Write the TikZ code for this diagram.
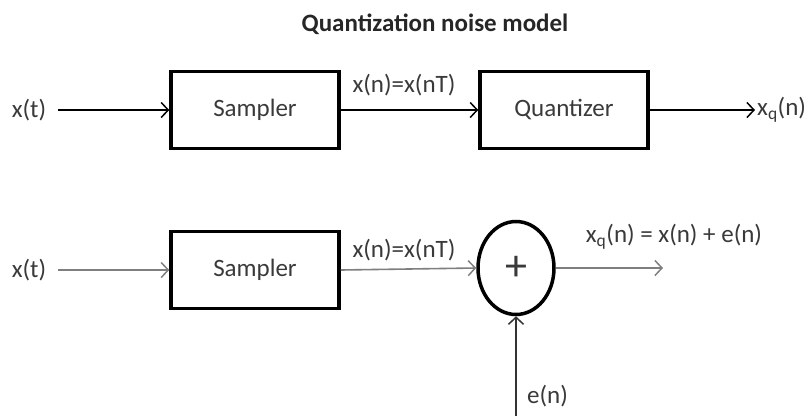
\documentclass[tikz,border=0pt]{standalone}
\usepackage{fontspec}
\setmainfont{Carlito}
\usetikzlibrary{arrows.meta,shapes.geometric}
\definecolor{txt}{HTML}{3A3A3A}
\definecolor{lgray}{HTML}{7F7F7F}
\begin{document}
\begin{tikzpicture}[x=1pt,y=-1pt,
  lbl/.style={text=txt, font=\fontsize{25}{30}\selectfont, inner sep=0pt},
  blk/.style={draw=black, line width=3.5pt, minimum width=168pt, minimum height=77pt,
              inner sep=0pt, text=txt, font=\fontsize{25}{30}\selectfont},
  sig/.style={line width=1.6pt, -{Straight Barb[length=7pt,width=15pt,line width=1.5pt]}},
]
\useasboundingbox (0,0) rectangle (811,416);
\fill[white] (0,0) rectangle (811,416);

% title
\node[lbl, font=\fontsize{25}{30}\selectfont\bfseries, text=black!85] (title) at (435,24) {Quantization noise model};

% top row
\node[lbl] (xt1) at (29,110) {x(t)};
\node[blk] (s1) at (255,110) {Sampler};
\node[blk] (q1) at (564,110) {Quantizer};
\node[lbl, anchor=west] (xq1) at (757,110) {x\textsubscript{q}(n)};
\node[lbl] (m1) at (404,85) {x(n)=x(nT)};
\draw[sig] (xt1.east) ++(12,0) -- (s1.west);
\draw[sig] (s1.east) -- (q1.west);
\draw[sig] (q1.east) -- ([xshift=-2pt]xq1.west);

% bottom row
\node[lbl] (xt2) at (29,270) {x(t)};
\node[blk] (s2) at (255,270) {Sampler};
\node[ellipse, draw=black, line width=3.5pt, minimum width=76pt, minimum height=93pt,
      inner sep=0pt, text=txt, font=\fontsize{44}{44}\selectfont] (sum) at (516,268) {+};
\node[lbl] (m2) at (404,250) {x(n)=x(nT)};
\node[lbl] (out) at (674,237) {x\textsubscript{q}(n) = x(n) + e(n)};
\node[lbl, anchor=west] (en) at (527,396) {e(n)};
\coordinate (outend) at (663,268);
\coordinate (ebot) at (516,416);
\draw[sig, draw=lgray] (xt2.east) ++(12,0) -- (s2.west);
\draw[sig, draw=lgray] (s2.east) -- (sum.west);
\draw[sig, draw=lgray] (sum.east) -- (outend);
\draw[sig, draw=black!80] (ebot) -- (sum.south);
\end{tikzpicture}
\end{document}
